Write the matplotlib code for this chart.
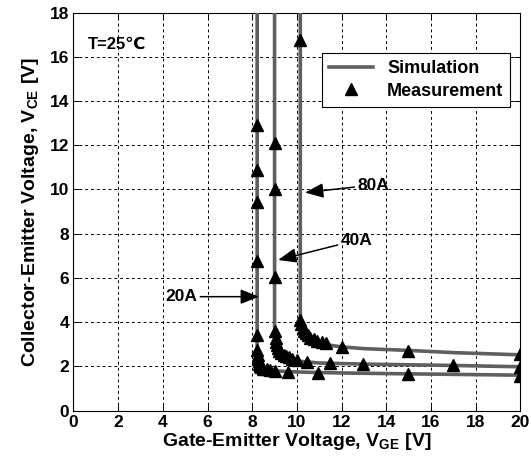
import matplotlib
matplotlib.use("Agg")
import matplotlib.pyplot as plt

plt.rcParams['font.family'] = ['Liberation Sans', 'DejaVu Sans']
plt.rcParams['font.weight'] = 'bold'
plt.rcParams['mathtext.fontset'] = 'custom'
plt.rcParams['mathtext.rm'] = 'Liberation Sans'
plt.rcParams['mathtext.bf'] = 'Liberation Sans:bold'

# Simulation curves (V_GE, V_CE)
sim20_x = [8.22, 8.22, 8.24, 8.28, 8.35, 8.5, 8.7, 9.0, 9.6, 10.5, 12.0, 15.0, 20.0]
sim20_y = [18.0, 3.0, 2.4, 2.15, 2.0, 1.9, 1.84, 1.8, 1.76, 1.73, 1.7, 1.66, 1.6]
sim40_x = [9.0, 9.0, 9.03, 9.08, 9.15, 9.3, 9.5, 9.8, 10.2, 11.0, 13.0, 17.0, 20.0]
sim40_y = [18.0, 3.8, 3.2, 2.9, 2.7, 2.5, 2.4, 2.3, 2.22, 2.15, 2.1, 2.04, 1.98]
sim80_x = [10.15, 10.15, 10.2, 10.3, 10.45, 10.7, 11.0, 11.5, 12.0, 13.0, 15.0, 17.0, 20.0]
sim80_y = [18.0, 4.4, 3.8, 3.5, 3.3, 3.15, 3.05, 2.95, 2.88, 2.8, 2.72, 2.62, 2.52]

# Measurements
meas20_x = [8.22, 8.22, 8.22, 8.22, 8.22, 8.23, 8.25, 8.26, 8.28, 8.3, 8.35, 8.4, 8.5,
            8.65, 8.8, 9.0, 9.61, 10.95, 14.98, 20.0]
meas20_y = [12.9, 10.88, 9.45, 6.78, 3.4, 2.74, 2.5, 2.35, 2.22, 2.1, 2.0, 1.95, 1.9,
            1.86, 1.83, 1.8, 1.73, 1.69, 1.65, 1.58]
meas40_x = [9.0, 9.0, 9.0, 9.02, 9.05, 9.08, 9.1, 9.15, 9.2, 9.3, 9.4, 9.5, 9.65, 9.8,
            10.0, 10.45, 11.48, 12.97, 17.0, 20.0]
meas40_y = [12.1, 10.02, 6.02, 3.62, 3.3, 3.1, 2.95, 2.82, 2.7, 2.6, 2.52, 2.46, 2.4,
            2.35, 2.3, 2.21, 2.16, 2.12, 2.06, 1.96]
meas80_x = [10.15, 10.15, 10.2, 10.25, 10.3, 10.4, 10.5, 10.6, 10.75, 10.9, 11.1, 11.3,
            12.0, 14.98, 20.0]
meas80_y = [16.75, 4.1, 3.9, 3.75, 3.6, 3.5, 3.4, 3.3, 3.22, 3.15, 3.1, 3.05, 2.88,
            2.71, 2.56]

sim_color = '#5f5f5f'

fig = plt.figure(figsize=(5.31, 4.66), dpi=100)
ax = fig.add_axes([0.1384, 0.119, 0.8416, 0.854])

line_sim, = ax.plot(sim20_x, sim20_y, color=sim_color, lw=2.6, zorder=3, label='Simulation')
ax.plot(sim40_x, sim40_y, color=sim_color, lw=2.6, zorder=3)
ax.plot(sim80_x, sim80_y, color=sim_color, lw=2.6, zorder=3)

mk = dict(marker='^', ls='none', color='black', markersize=8, zorder=4)
pts, = ax.plot(meas20_x, meas20_y, label='Measurement', **mk)
ax.plot(meas40_x, meas40_y, **mk)
ax.plot(meas80_x, meas80_y, **mk)

ax.set_xlim(0, 20)
ax.set_ylim(0, 18)
ax.set_xticks(range(0, 21, 2))
ax.set_yticks(range(0, 19, 2))
ax.grid(True, color='black', linestyle=(0, (3, 3)), linewidth=0.7)
ax.tick_params(direction='in', length=4, width=0.7, labelsize=12.5, pad=3,
               top=True, right=True)
for lab in ax.get_xticklabels() + ax.get_yticklabels():
    lab.set_fontweight('bold')
for sp in ax.spines.values():
    sp.set_linewidth(0.8)

ax.set_xlabel(r'Gate-Emitter Voltage, V$_{\mathbf{GE}}$ [V]', fontsize=14,
              fontweight='bold', labelpad=1)
ax.set_ylabel(r'Collector-Emitter Voltage, V$_{\mathbf{CE}}$ [V]', fontsize=14,
              fontweight='bold', labelpad=6)

ax.text(0.66, 16.57, 'T=25℃', fontsize=12, fontweight='bold', va='center', ha='left',
        zorder=5)

arrow = dict(arrowstyle='-|>,head_length=0.7,head_width=0.28', color='black',
             lw=1.1, mutation_scale=16, shrinkA=0, shrinkB=0)
ax.annotate('80A', xy=(10.36, 9.86), xytext=(12.7, 10.2), fontsize=12.5,
            fontweight='bold', va='center', ha='left', arrowprops=arrow, zorder=5)
ax.annotate('40A', xy=(9.16, 6.81), xytext=(11.95, 7.7), fontsize=12.5,
            fontweight='bold', va='center', ha='left', arrowprops=arrow, zorder=5)
ax.annotate('20A', xy=(8.3, 5.15), xytext=(5.55, 5.15), fontsize=12.5,
            fontweight='bold', va='center', ha='right', arrowprops=arrow, zorder=5)

leg = ax.legend(handles=[line_sim, pts], loc='upper left',
                bbox_to_anchor=(0.556, 0.898), borderaxespad=0, fancybox=False,
                framealpha=1, edgecolor='black', handlelength=2.4,
                borderpad=0.4, labelspacing=0.3, prop={'weight': 'bold', 'size': 13})
leg.get_frame().set_linewidth(0.8)

fig.savefig('out.png', dpi=100)
